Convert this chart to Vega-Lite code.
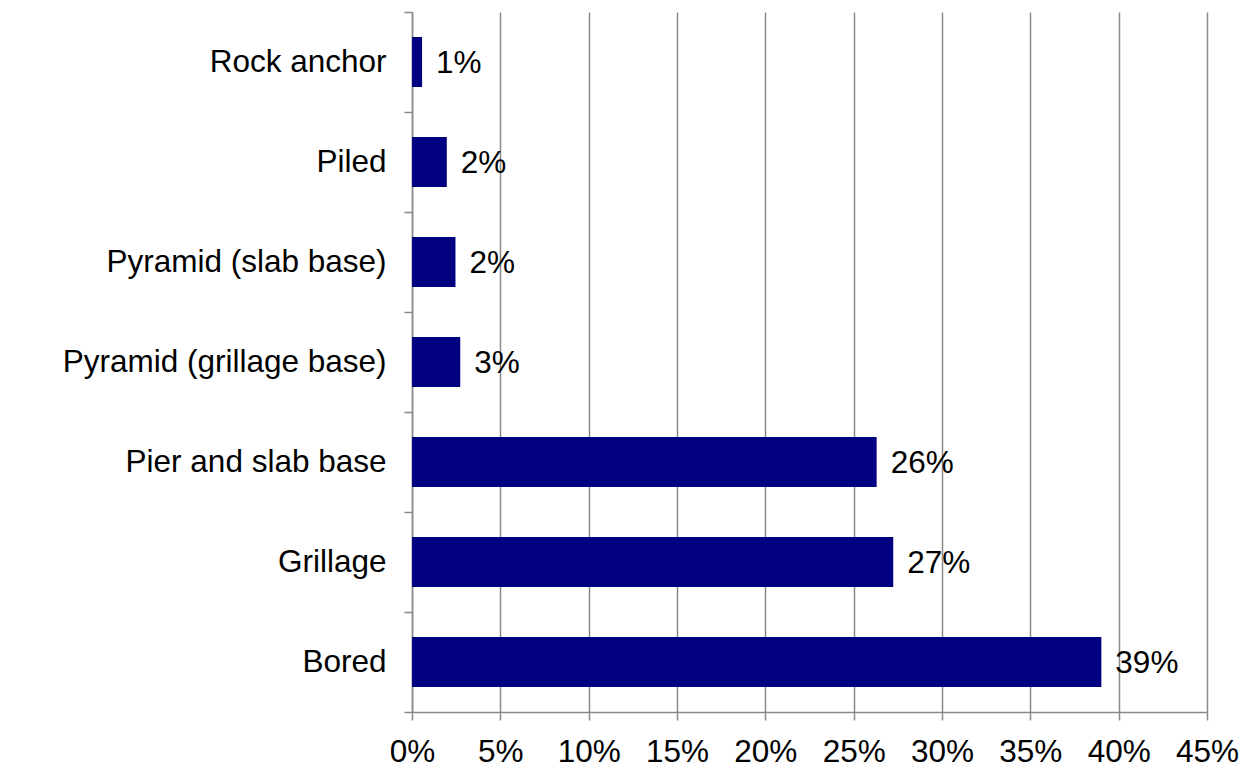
{
  "$schema": "https://vega.github.io/schema/vega-lite/v6.json",
  "width": 795,
  "height": 700,
  "autosize": "none",
  "padding": {"left": 412, "top": 12, "right": 46, "bottom": 57},
  "background": "white",
  "data": {
    "values": [
      {"type": "Rock anchor", "share": 0.0057},
      {"type": "Piled", "share": 0.0197},
      {"type": "Pyramid (slab base)", "share": 0.0246},
      {"type": "Pyramid (grillage base)", "share": 0.0273},
      {"type": "Pier and slab base", "share": 0.263},
      {"type": "Grillage", "share": 0.2724},
      {"type": "Bored", "share": 0.3902}
    ]
  },
  "config": {
    "view": {"stroke": null},
    "font": "Liberation Sans",
    "axis": {
      "labelFont": "Liberation Sans",
      "labelFontSize": 31.5,
      "labelColor": "black",
      "domainColor": "#8a8a8a",
      "domainWidth": 1.5,
      "tickColor": "#8a8a8a",
      "tickWidth": 1.5,
      "tickSize": 8,
      "title": null
    }
  },
  "encoding": {
    "y": {
      "field": "type",
      "type": "nominal",
      "sort": null,
      "scale": {"paddingInner": 0, "paddingOuter": 0},
      "axis": {"tickBand": "extent", "labelPadding": 18, "grid": false, "labelLimit": 400}
    },
    "x": {
      "field": "share",
      "type": "quantitative",
      "scale": {"domain": [0, 0.45], "nice": false},
      "axis": {
        "values": [0, 0.05, 0.1, 0.15, 0.2, 0.25, 0.3, 0.35, 0.4, 0.45],
        "format": ".0%",
        "grid": true,
        "gridColor": "#8a8a8a",
        "gridWidth": 1.5,
        "labelPadding": 16,
        "labelFlush": false
      }
    }
  },
  "layer": [
    {"mark": {"type": "bar", "color": "#000080", "height": {"band": 0.5}}},
    {
      "mark": {"type": "text", "align": "left", "baseline": "middle", "dx": 14, "dy": 2, "fontSize": 31.5, "color": "black"},
      "encoding": {"text": {"field": "share", "type": "quantitative", "format": ".0%"}}
    }
  ]
}
